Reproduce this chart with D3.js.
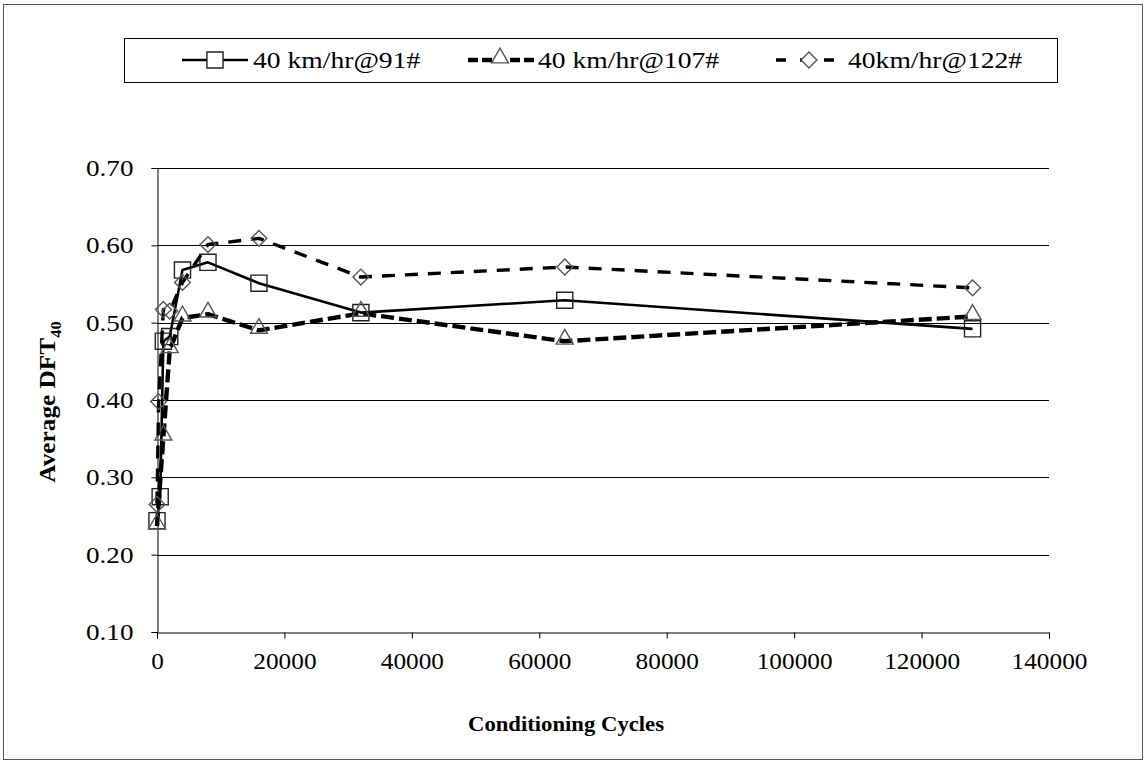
<!DOCTYPE html>
<html>
<head>
<meta charset="utf-8">
<script src="https://cdn.jsdelivr.net/npm/d3@7/dist/d3.min.js"></script>
<style>
  html, body { margin: 0; padding: 0; background: #fff; }
  svg text { font-family: "Liberation Serif", "Times New Roman", serif; fill: #000; }
</style>
</head>
<body>
<svg id="chart" width="1147" height="765"></svg>
<script>
// Conditioning cycles at which DFT was measured, per series
const cycles91  = [0, 500, 1000, 2000, 4000, 8000, 16000, 32000, 64000, 128000];
const dft91     = [0.244, 0.275, 0.476, 0.482, 0.568, 0.578, 0.551, 0.513, 0.529, 0.492];

const cycles107 = [0, 1000, 2000, 4000, 8000, 16000, 32000, 64000, 128000];
const dft107    = [0.237, 0.352, 0.465, 0.506, 0.511, 0.490, 0.512, 0.476, 0.508];

const cycles122 = [0, 250, 1000, 2000, 4000, 8000, 16000, 32000, 64000, 128000];
const dft122    = [0.265, 0.398, 0.517, 0.515, 0.552, 0.601, 0.609, 0.559, 0.572, 0.545];

const seriesNames = ["40 km/hr@91#", "40 km/hr@107#", "40km/hr@122#"];
const xTicks = [0, 20000, 40000, 60000, 80000, 100000, 120000, 140000];
const yTicks = [0.10, 0.20, 0.30, 0.40, 0.50, 0.60, 0.70];

const svg = d3.select("#chart");

// widen a text element's glyphs by factor k, keeping its anchor
function stretch(sel, k) {
  sel.each(function () {
    const w = this.getComputedTextLength();
    d3.select(this).attr("textLength", w * k).attr("lengthAdjust", "spacingAndGlyphs");
  });
}

// outer frame
svg.append("rect")
  .attr("x", 3.5).attr("y", 4.5).attr("width", 1139).attr("height", 755)
  .attr("fill", "none").attr("stroke", "#555").attr("stroke-width", 1);

const plot = { left: 157, right: 1049, top: 168, bottom: 632 };

const x = d3.scaleLinear().domain([0, 140000]).range([plot.left, plot.right]);
const y = d3.scaleLinear().domain([0.10, 0.70]).range([plot.bottom, plot.top]);

// horizontal gridlines
svg.append("g")
  .selectAll("line")
  .data(yTicks.slice(1))
  .join("line")
  .attr("x1", plot.left).attr("x2", plot.right)
  .attr("y1", d => Math.round(y(d)) + 0.5).attr("y2", d => Math.round(y(d)) + 0.5)
  .attr("stroke", "#000").attr("stroke-width", 1);

// y axis
const yAxis = svg.append("g")
  .attr("transform", `translate(${plot.left + 0.5},0)`)
  .call(d3.axisLeft(y).tickValues(yTicks).tickFormat(d3.format(".2f")).tickSize(6).tickPadding(18));
yAxis.attr("font-family", null);
yAxis.select(".domain").attr("stroke", "#000");
yAxis.selectAll(".tick line").attr("stroke", "#000");
yAxis.selectAll(".tick text").attr("font-size", 23).call(stretch, 1.18);

// x axis
const xAxis = svg.append("g")
  .attr("transform", `translate(0,${plot.bottom + 0.5})`)
  .call(d3.axisBottom(x).tickValues(xTicks).tickFormat(d3.format("d")).tickSize(6).tickPadding(14));
xAxis.attr("font-family", null);
xAxis.select(".domain").attr("stroke", "#000");
xAxis.selectAll(".tick line").attr("stroke", "#000");
xAxis.selectAll(".tick text").attr("font-size", 23).call(stretch, 1.1);

// axis titles
svg.append("text")
  .attr("x", 566).attr("y", 731)
  .attr("text-anchor", "middle")
  .attr("font-size", 22).attr("font-weight", "bold")
  .attr("textLength", 196).attr("lengthAdjust", "spacingAndGlyphs")
  .text("Conditioning Cycles");

const yTitle = svg.append("text")
  .attr("transform", `translate(55,${(plot.top + plot.bottom) / 2 + 2}) rotate(-90) scale(1.1,1)`)
  .attr("text-anchor", "middle")
  .attr("font-size", 23).attr("font-weight", "bold");
yTitle.append("tspan").text("Average DFT");
yTitle.append("tspan").attr("font-size", 15).attr("dy", 6).text("40");

// marker shapes
const markerSquare = d3.symbol().type(d3.symbolSquare).size(260);
const markerTriangle = d3.symbol().type(d3.symbolTriangle).size(125);
const markerDiamond = d3.symbol().type(d3.symbolSquare).size(125);

const series = [
  { xs: cycles91,  ys: dft91,  width: 2.6, dash: null,    marker: markerSquare,   rot: 0,  dy: 0,  stroke: "#222" },
  { xs: cycles107, ys: dft107, width: 4.4, dash: "13,5",  marker: markerTriangle, rot: 0,  dy: -2, stroke: "#555" },
  { xs: cycles122, ys: dft122, width: 3.4, dash: "13,10", marker: markerDiamond,  rot: 45, dy: 0,  stroke: "#555" }
];

const line = d3.line().x(d => x(d[0])).y(d => y(d[1]));

series.forEach(s => {
  const pts = s.xs.map((c, i) => [c, s.ys[i]]);
  svg.append("path")
    .datum(pts)
    .attr("d", line)
    .attr("fill", "none")
    .attr("stroke", "#000")
    .attr("stroke-width", s.width)
    .attr("stroke-linejoin", "round")
    .attr("stroke-dasharray", s.dash);
  svg.append("g")
    .selectAll("path")
    .data(pts)
    .join("path")
    .attr("d", s.marker)
    .attr("transform", d => `translate(${x(d[0])},${y(d[1]) + s.dy}) rotate(${s.rot})`)
    .attr("fill", "none")
    .attr("stroke", s.stroke)
    .attr("stroke-width", 1.4);
});

// legend
svg.append("rect")
  .attr("x", 124.5).attr("y", 38.5).attr("width", 933).attr("height", 44)
  .attr("fill", "#fff").attr("stroke", "#000").attr("stroke-width", 1);

const legendItems = [
  { lx: 182, mx: 215, tx: 253, s: series[0] },
  { lx: 468, mx: 500, tx: 538, s: series[1] },
  { lx: 776, mx: 809, tx: 848, s: series[2] }
];
legendItems.forEach((it, i) => {
  const ly = 60;
  svg.append("line")
    .attr("x1", it.lx).attr("x2", it.lx + 66)
    .attr("y1", ly).attr("y2", ly)
    .attr("stroke", "#000")
    .attr("stroke-width", it.s.width)
    .attr("stroke-dasharray", i === 0 ? null : (i === 1 ? "10,4" : "10,14"));
  svg.append("path")
    .attr("d", it.s.marker)
    .attr("transform", `translate(${it.mx},${ly + it.s.dy}) rotate(${it.s.rot})`)
    .attr("fill", "#fff")
    .attr("stroke", it.s.stroke)
    .attr("stroke-width", 1.4);
  svg.append("text")
    .attr("x", it.tx).attr("y", ly + 8)
    .attr("font-size", 23)
    .text(seriesNames[i])
    .call(stretch, 1.2);
});
</script>
</body>
</html>
